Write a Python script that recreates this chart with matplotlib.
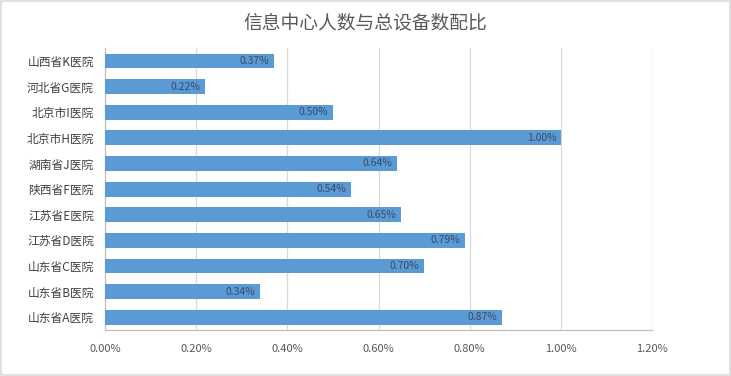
import matplotlib
matplotlib.use("Agg")
import matplotlib.pyplot as plt
from matplotlib.patches import Rectangle
from matplotlib.ticker import FuncFormatter

plt.rcParams['font.family'] = ['Noto Sans CJK SC', 'DejaVu Sans']

categories = ["山东省A医院", "山东省B医院", "山东省C医院", "江苏省D医院", "江苏省E医院",
              "陕西省F医院", "湖南省J医院", "北京市H医院", "北京市I医院", "河北省G医院", "山西省K医院"]
values = [0.87, 0.34, 0.70, 0.79, 0.65, 0.54, 0.64, 1.00, 0.50, 0.22, 0.37]
xticks = [0.0, 0.2, 0.4, 0.6, 0.8, 1.0, 1.2]

fig = plt.figure(figsize=(7.31, 3.76), dpi=100)
fig.patches.append(Rectangle((0.002, 0.003), 0.996, 0.994, transform=fig.transFigure,
                             fill=False, edgecolor='#D9D9D9', linewidth=1.2))
ax = fig.add_axes([0.1436, 0.1223, 0.892 - 0.1436, 0.872 - 0.1223])

y = list(range(len(categories)))
ax.barh(y, values, height=0.58, color='#5B9BD5', zorder=3)
for yi, v in zip(y, values):
    ax.text(v - 0.01, yi, f"{v:.2f}%", ha='right', va='center', fontsize=7.5,
            color='#3A4A66', zorder=4)

ax.set_xlim(0, 1.2)
ax.set_ylim(-0.5, len(categories) - 0.5)
ax.set_xticks(xticks)
ax.xaxis.set_major_formatter(FuncFormatter(lambda x, p: f"{x:.2f}%"))
ax.set_yticks(y)
ax.set_yticklabels(categories)
ax.tick_params(axis='x', length=0, labelsize=8, labelcolor='#595959', pad=10)
ax.tick_params(axis='y', length=0, labelsize=8.5, labelcolor='#404040', pad=8)
ax.grid(axis='x', color='#D9D9D9', linewidth=0.9, zorder=0)
for s in ['top', 'right']:
    ax.spines[s].set_visible(False)
for s in ['left', 'bottom']:
    ax.spines[s].set_color('#BFBFBF')
    ax.spines[s].set_linewidth(0.9)

fig.text(0.5, 0.94, "信息中心人数与总设备数配比", ha='center', va='center',
         fontsize=13.5, color='#595959')

fig.savefig("out.png", dpi=100)
